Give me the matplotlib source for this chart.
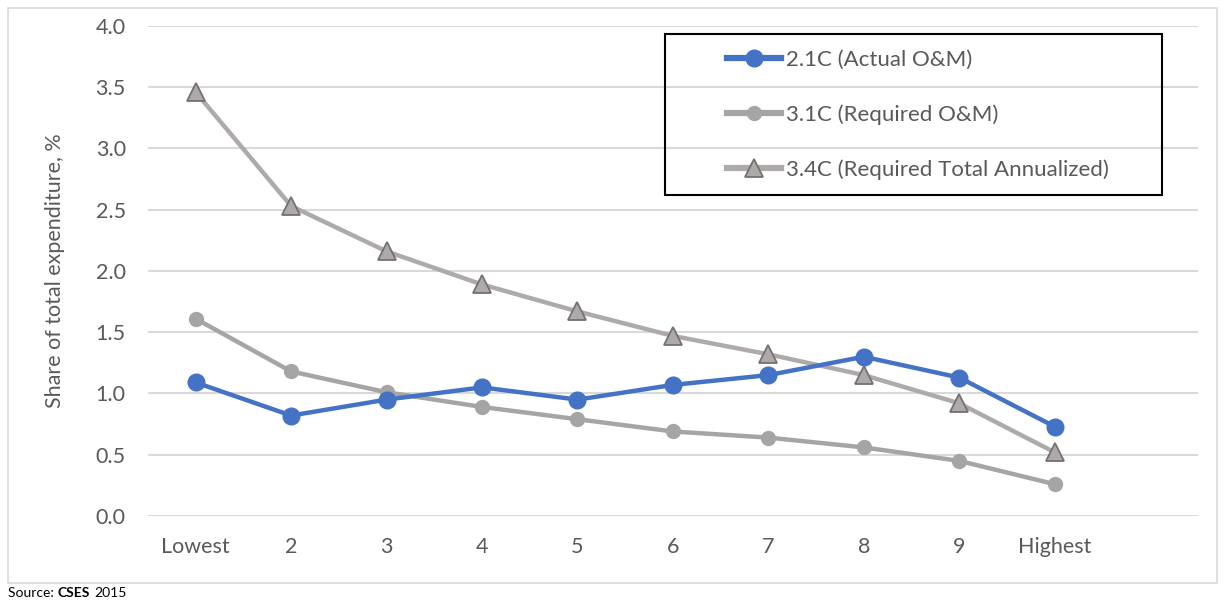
import matplotlib.pyplot as plt
from matplotlib.patches import Rectangle
from matplotlib.lines import Line2D

plt.rcParams['font.family'] = ['Lato', 'DejaVu Sans']

deciles = ["Lowest", "2", "3", "4", "5", "6", "7", "8", "9", "Highest"]
actual_om = [1.09, 0.82, 0.95, 1.05, 0.95, 1.07, 1.15, 1.30, 1.13, 0.73]
required_om = [1.61, 1.18, 1.01, 0.89, 0.79, 0.69, 0.64, 0.56, 0.45, 0.26]
required_total = [3.46, 2.53, 2.16, 1.89, 1.67, 1.47, 1.32, 1.15, 0.92, 0.52]

blue = '#4472C4'
gray = '#A5A5A5'
tri_line = '#AEAAAA'
tri_edge = '#767171'
text_color = '#595959'
grid_color = '#D9D9D9'
fs = 15.5

fig = plt.figure(figsize=(12.25, 6), dpi=100)
ax = fig.add_axes([0.1208, 0.14, 0.857, 0.8167])

x = list(range(len(deciles)))
ax.plot(x, required_total, color=tri_line, lw=3.2, marker='^', ms=12.5,
        mfc=tri_line, mec=tri_edge, mew=1.3, label="3.4C (Required Total Annualized)", zorder=3)
ax.plot(x, required_om, color=gray, lw=3.2, marker='o', ms=10,
        mfc=gray, mec=gray, label="3.1C (Required O&M)", zorder=4)
ax.plot(x, actual_om, color=blue, lw=3.2, marker='o', ms=12,
        mfc=blue, mec=blue, label="2.1C (Actual O&M)", zorder=5)

ax.set_xlim(-0.5, 10.5)
ax.set_ylim(0, 4.0)
ax.set_xticks(x)
ax.set_xticklabels(deciles)
ax.set_yticks([i * 0.5 for i in range(9)])
ax.set_yticklabels([f"{i * 0.5:.1f}" for i in range(9)])
ax.tick_params(length=0, labelsize=fs, labelcolor=text_color)
ax.tick_params(axis='y', pad=16)
ax.tick_params(axis='x', pad=15)
for s in ax.spines.values():
    s.set_visible(False)
ax.grid(axis='y', color=grid_color, lw=1.5)
ax.set_axisbelow(True)
ax.set_ylabel("Share of total expenditure, %", fontsize=fs, color=text_color, labelpad=22)

# legend in its own black box
fig.patches.append(Rectangle((665 / 1225, 1 - 195 / 600), 497 / 1225, 161 / 600,
                             transform=fig.transFigure, fill=False, ec='black', lw=1.5))
handles = [
    Line2D([], [], color=blue, lw=4.5, marker='o', ms=12, mfc=blue, mec=blue),
    Line2D([], [], color=gray, lw=4.5, marker='o', ms=10, mfc=gray, mec=gray),
    Line2D([], [], color=tri_line, lw=4.5, marker='^', ms=12.5, mfc=tri_line, mec=tri_edge, mew=1.3),
]
labels = ["2.1C (Actual O&M)", "3.1C (Required O&M)", "3.4C (Required Total Annualized)"]
leg = fig.legend(handles, labels, loc='upper left', bbox_to_anchor=(727 / 1225, 1 - 50 / 600),
                 frameon=False, fontsize=16, handlelength=2.45, handletextpad=0.2,
                 labelspacing=1.55, borderpad=0, borderaxespad=0)
for t in leg.get_texts():
    t.set_color(text_color)

# outer chart frame
fig.patches.append(Rectangle((8 / 1225, 1 - 583 / 600), 1209 / 1225, 575 / 600,
                             transform=fig.transFigure, fill=False, ec=grid_color, lw=1.2))

fig.text(8 / 1225, 1 - 593 / 600, "Source: ", fontsize=10, va='center', ha='left')
fig.text(57 / 1225, 1 - 593 / 600, "CSES", fontsize=10, va='center', ha='left', weight='bold')
fig.text(94 / 1225, 1 - 593 / 600, "2015", fontsize=10, va='center', ha='left')

fig.savefig("out.png", dpi=100)
